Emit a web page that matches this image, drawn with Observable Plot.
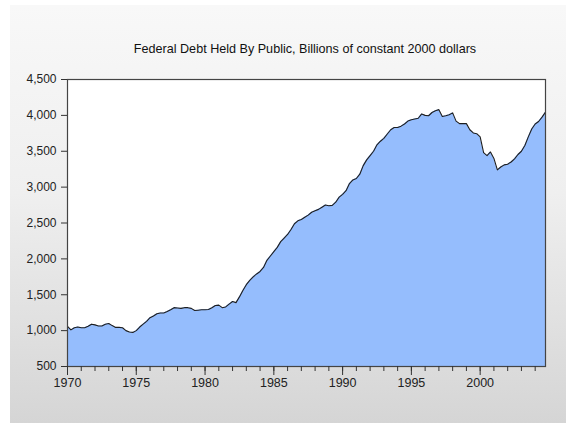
<!DOCTYPE html>
<html>
<head>
<meta charset="utf-8">
<script src="https://cdn.jsdelivr.net/npm/d3@7"></script>
<script src="https://cdn.jsdelivr.net/npm/@observablehq/plot@0.6"></script>
<style>
  html, body { margin: 0; padding: 0; background: #ffffff; }
  #wrap { position: relative; width: 566px; height: 423px; overflow: hidden; background: #ffffff; }
  #panel { position: absolute; left: 10px; top: 5px; width: 556px; height: 418px;
           background: linear-gradient(to bottom, #f8f8f8 0%, #efefef 45%, #d5d5d5 100%); }
  #title { position: absolute; left: 0; width: 566px; top: 42px; text-align: center;
           padding-left: 44px; box-sizing: border-box;
           font-family: "Liberation Sans", Arial, sans-serif; font-size: 12.6px; color: #111; }
  #chart { position: absolute; left: 0; top: 0; }
</style>
</head>
<body>
<div id="wrap">
  <div id="panel"></div>
  <div id="title">Federal Debt Held By Public, Billions of constant 2000 dollars</div>
  <div id="chart"></div>
</div>
<script>
// Quarterly observations, 1970Q1 .. 2004Q4
const years = d3.range(1970, 2005);
const quarters = [0, 1, 2, 3];
const debt = [
  1060, 1010, 1040, 1050,   // 1970
  1040, 1040, 1060, 1090,   // 1971
  1080, 1065, 1065, 1090,   // 1972
  1100, 1070, 1045, 1045,   // 1973
  1040, 1000, 980, 975,     // 1974
  1000, 1050, 1090, 1130,   // 1975
  1180, 1205, 1235, 1245,   // 1976
  1245, 1265, 1290, 1320,   // 1977
  1315, 1310, 1320, 1320,   // 1978
  1310, 1280, 1285, 1290,   // 1979
  1290, 1295, 1320, 1350,   // 1980
  1355, 1320, 1330, 1370,   // 1981
  1405, 1390, 1470, 1560,   // 1982
  1640, 1700, 1750, 1790,   // 1983
  1825, 1880, 1980, 2040,   // 1984
  2100, 2160, 2240, 2290,   // 1985
  2340, 2410, 2490, 2530,   // 1986
  2550, 2580, 2610, 2650,   // 1987
  2670, 2690, 2720, 2750,   // 1988
  2740, 2745, 2790, 2860,   // 1989
  2900, 2950, 3050, 3100,   // 1990
  3120, 3180, 3300, 3380,   // 1991
  3440, 3500, 3590, 3640,   // 1992
  3680, 3740, 3800, 3830,   // 1993
  3830, 3850, 3880, 3920,   // 1994
  3940, 3950, 3960, 4020,   // 1995
  4000, 3995, 4040, 4065,   // 1996
  4080, 3985, 3995, 4010,   // 1997
  4035, 3920, 3885, 3885,   // 1998
  3885, 3800, 3755, 3745,   // 1999
  3700, 3480, 3440, 3490,   // 2000
  3400, 3240, 3280, 3310,   // 2001
  3320, 3350, 3395, 3455,   // 2002
  3500, 3580, 3700, 3810,   // 2003
  3880, 3915, 3975, 4045    // 2004
];
const yTicks = [500, 1000, 1500, 2000, 2500, 3000, 3500, 4000, 4500];
const majorYears = [1970, 1975, 1980, 1985, 1990, 1995, 2000];
const minorYears = d3.range(1970, 2005);

const data = [];
years.forEach((yr, i) => quarters.forEach(q => {
  data.push({t: yr + q / 4, v: debt[i * 4 + q]});
}));

const chart = Plot.plot({
  width: 566,
  height: 423,
  marginLeft: 67,
  marginRight: 21,
  marginTop: 79,
  marginBottom: 57,
  style: {background: "transparent", fontFamily: "'Liberation Sans', Arial, sans-serif", color: "#222"},
  x: {type: "linear", domain: [1970, 2004.75]},
  y: {domain: [500, 4500]},
  marks: [
    Plot.frame({fill: "#ffffff"}),
    Plot.areaY(data, {x: "t", y1: 500, y2: "v", fill: "#95bdfd"}),
    Plot.lineY(data, {x: "t", y: "v", stroke: "#1e1e1e", strokeWidth: 1.1}),
    Plot.frame({stroke: "#444", strokeWidth: 1.2}),
    Plot.axisY({ticks: yTicks, tickFormat: d3.format(","), tickSize: 6, tickPadding: 5,
                fontSize: 12, stroke: "#333", label: null}),
    Plot.axisX({ticks: minorYears, tickFormat: () => "", tickSize: 5, stroke: "#333", label: null}),
    Plot.axisX({ticks: majorYears, tickFormat: d => String(d), tickSize: 9, tickPadding: 3,
                fontSize: 12.5, stroke: "#333", label: null})
  ]
});
document.getElementById("chart").appendChild(chart);
</script>
</body>
</html>
